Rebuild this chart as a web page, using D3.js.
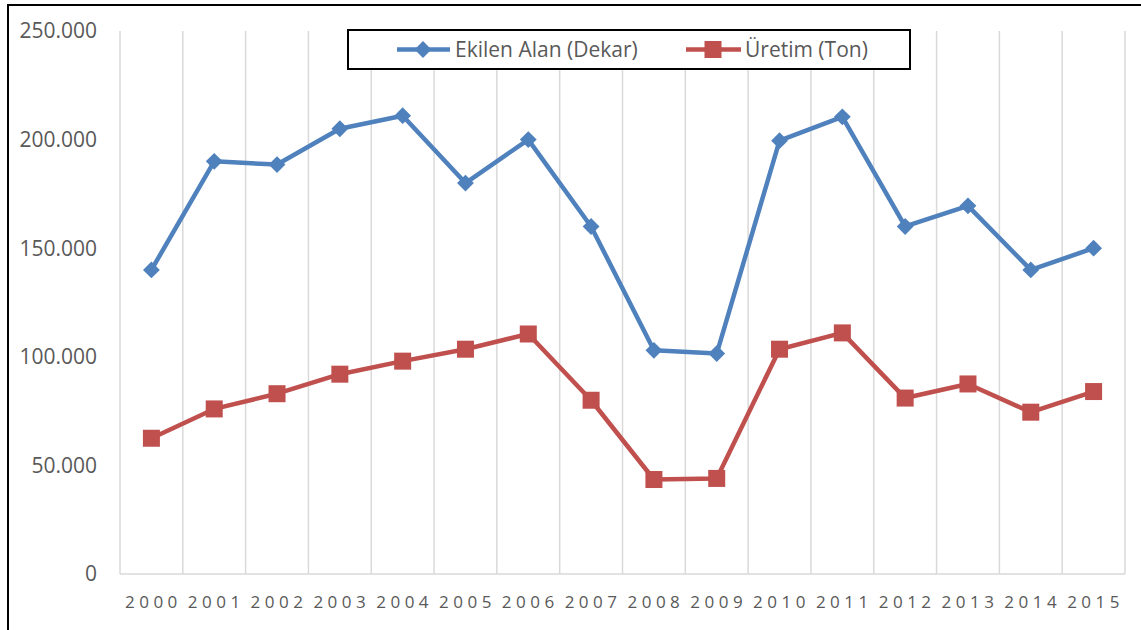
<!DOCTYPE html>
<html>
<head>
<meta charset="utf-8">
<script src="https://cdn.jsdelivr.net/npm/d3@7"></script>
<style>
  body { margin: 0; background: #fff; }
  svg { display: block; font-family: "Open Sans", sans-serif; }
</style>
</head>
<body>
<div id="chart"></div>
<script>
const WIDTH = 1141;
const HEIGHT = 630;

const years = ["2000","2001","2002","2003","2004","2005","2006","2007","2008","2009","2010","2011","2012","2013","2014","2015"];
const ekilenAlan = [140000,190000,188500,205000,211000,180000,200000,160000,103000,101500,199500,210500,160000,169500,140000,150000];
const uretim = [62500,76000,83000,92000,98000,103500,110500,80000,43500,44000,103500,111000,81000,87500,74500,84000];
const yTicks = [0,50000,100000,150000,200000,250000];
const seriesNames = ["Ekilen Alan (Dekar)", "Üretim (Ton)"];

const BLUE = "#4f81bd";
const RED = "#c0504d";

const trFormat = d3.formatLocale({decimal: ",", thousands: ".", grouping: [3], currency: ["", ""]}).format(",");

const svg = d3.select("#chart").append("svg")
  .attr("width", WIDTH)
  .attr("height", HEIGHT);

// outer frame (runs off the right and bottom edge)
svg.append("rect")
  .attr("x", 8).attr("y", 5)
  .attr("width", WIDTH + 20).attr("height", HEIGHT + 20)
  .attr("fill", "none").attr("stroke", "#000").attr("stroke-width", 2);

const x = d3.scaleBand().domain(years).range([120, 1125]).padding(0);
const y = d3.scaleLinear().domain([0, 250000]).range([574, 31]);

// vertical gridlines at category boundaries
const bounds = years.map(d => x(d)).concat([x.range()[1]]);
svg.append("g").selectAll("line")
  .data(bounds)
  .join("line")
    .attr("x1", d => d).attr("x2", d => d)
    .attr("y1", y(250000)).attr("y2", y(0))
    .attr("stroke", "#d9d9d9").attr("stroke-width", 1.5);

// baseline
svg.append("line")
  .attr("x1", x.range()[0]).attr("x2", x.range()[1])
  .attr("y1", y(0)).attr("y2", y(0))
  .attr("stroke", "#d9d9d9").attr("stroke-width", 1.5);

// y labels
svg.append("g").selectAll("text")
  .data(yTicks)
  .join("text")
    .attr("x", 97)
    .attr("y", d => y(d))
    .attr("dy", "0.35em")
    .attr("text-anchor", "end")
    .attr("font-size", 21)
    .attr("fill", "#595959")
    .text(d => trFormat(d));

// x labels
svg.append("g").selectAll("text")
  .data(years)
  .join("text")
    .attr("x", d => x(d) + x.bandwidth() / 2 + 2)
    .attr("y", 608)
    .attr("text-anchor", "middle")
    .attr("font-size", 17)
    .attr("letter-spacing", "4.5px")
    .attr("fill", "#595959")
    .text(d => d);

const cx = d => x(d) + x.bandwidth() / 2;

function drawSeries(values, color) {
  const line = d3.line().x((v, i) => cx(years[i])).y(v => y(v));
  svg.append("path")
    .datum(values)
    .attr("d", line)
    .attr("fill", "none")
    .attr("stroke", color)
    .attr("stroke-width", 4.5)
    .attr("stroke-linejoin", "round");
}

drawSeries(ekilenAlan, BLUE);
drawSeries(uretim, RED);

const diamond = d3.symbol().type(d3.symbolDiamond2).size(180);

svg.append("g").selectAll("path")
  .data(ekilenAlan)
  .join("path")
    .attr("transform", (v, i) => `translate(${cx(years[i])},${y(v)})`)
    .attr("d", diamond)
    .attr("fill", BLUE);

svg.append("g").selectAll("rect")
  .data(uretim)
  .join("rect")
    .attr("x", (v, i) => cx(years[i]) - 8.5)
    .attr("y", v => y(v) - 8.5)
    .attr("width", 17).attr("height", 17)
    .attr("fill", RED);

// legend
const legend = svg.append("g");
legend.append("rect")
  .attr("x", 348).attr("y", 30)
  .attr("width", 562).attr("height", 39)
  .attr("fill", "#fff").attr("stroke", "#000").attr("stroke-width", 2);

const ly = 49.5;
legend.append("line")
  .attr("x1", 397).attr("x2", 450).attr("y1", ly).attr("y2", ly)
  .attr("stroke", BLUE).attr("stroke-width", 4.5);
legend.append("path")
  .attr("transform", `translate(423,${ly})`)
  .attr("d", diamond)
  .attr("fill", BLUE);
legend.append("text")
  .attr("x", 455).attr("y", ly).attr("dy", "0.35em")
  .attr("font-size", 21).attr("fill", "#595959")
  .text(seriesNames[0]);

legend.append("line")
  .attr("x1", 686).attr("x2", 741).attr("y1", ly).attr("y2", ly)
  .attr("stroke", RED).attr("stroke-width", 4.5);
legend.append("rect")
  .attr("x", 713 - 8.5).attr("y", ly - 8.5)
  .attr("width", 17).attr("height", 17)
  .attr("fill", RED);
legend.append("text")
  .attr("x", 745).attr("y", ly).attr("dy", "0.35em")
  .attr("font-size", 21).attr("fill", "#595959")
  .text(seriesNames[1]);
</script>
</body>
</html>
